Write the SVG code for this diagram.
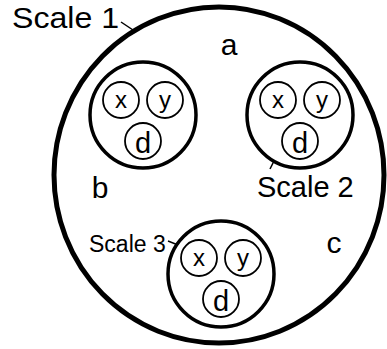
<svg xmlns="http://www.w3.org/2000/svg" width="387" height="349" viewBox="0 0 387 349">
<style>
text{font-family:"Liberation Sans",Arial,sans-serif;fill:#000}
.big{fill:none;stroke:#000;stroke-width:5}
.mid{fill:none;stroke:#000;stroke-width:3.5}
.sm{fill:none;stroke:#000;stroke-width:1.8}
.xy{font-size:24px;text-anchor:middle}
.d{font-size:29px;text-anchor:middle}
.lbl{font-size:30px;text-anchor:middle}
.sc{font-size:29px}
.tick{stroke:#000;stroke-width:1.5;fill:none}
</style>
<rect width="387" height="349" fill="#fff"/>
<g id="scale1">
<ellipse class="big" cx="219" cy="175" rx="165" ry="168"/>
<text class="sc" x="12" y="28" style="font-size:30px" textLength="107" lengthAdjust="spacingAndGlyphs">Scale 1</text>
<text class="lbl" x="229" y="55">a</text>
<text class="lbl" x="100" y="198">b</text>
<text class="lbl" x="334" y="253">c</text>
</g>
<g id="node-b">
<circle class="mid" cx="143" cy="115" r="53"/>
<circle class="sm" cx="121" cy="100" r="18"/><text class="xy" x="121" y="108">x</text>
<circle class="sm" cx="165" cy="100" r="18"/><text class="xy" x="165" y="108">y</text>
<circle class="sm" cx="143" cy="141" r="18"/><text class="d" x="143" y="153">d</text>
</g>
<g id="node-scale2">
<circle class="mid" cx="300" cy="115" r="53"/>
<circle class="sm" cx="278" cy="100" r="18"/><text class="xy" x="278" y="108">x</text>
<circle class="sm" cx="322" cy="100" r="18"/><text class="xy" x="322" y="108">y</text>
<circle class="sm" cx="300" cy="141" r="18"/><text class="d" x="300" y="153">d</text>
<text class="sc" x="257" y="197">Scale 2</text>
</g>
<g id="node-scale3">
<circle class="mid" cx="221" cy="274" r="53"/>
<circle class="sm" cx="199" cy="258" r="18"/><text class="xy" x="199" y="266">x</text>
<circle class="sm" cx="243" cy="258" r="18"/><text class="xy" x="243" y="266">y</text>
<circle class="sm" cx="221" cy="299" r="18"/><text class="d" x="221" y="311">d</text>
<text style="font-size:23px" x="89" y="252">Scale 3</text>
</g>
<g id="connectors">
<line class="tick" x1="121" y1="22" x2="133" y2="30"/>
<line class="tick" x1="274" y1="161" x2="270" y2="169"/>
<line class="tick" x1="168" y1="241" x2="178" y2="245"/>
</g>
</svg>
